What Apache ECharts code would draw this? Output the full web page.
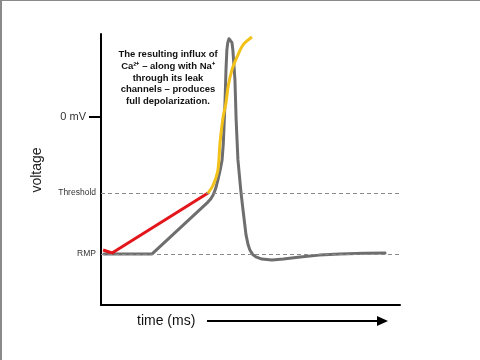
<!DOCTYPE html>
<html>
<head>
<meta charset="utf-8">
<script src="https://cdn.jsdelivr.net/npm/echarts@6/dist/echarts.min.js"></script>
<style>
html,body{margin:0;padding:0;background:#fff;}
#chart{width:480px;height:360px;}
</style>
</head>
<body>
<div id="chart"></div>
<script>
// time (arbitrary ms units), voltage (mV-like units)
var grayTrace = [
  [1.0,-70.0],[17.1,-70.0],[35.5,-44.0],[36.6,-42.2],[37.5,-40.0],[38.4,-36.5],[39.1,-32.3],
  [39.9,-27.0],[40.5,-22.1],[40.9,-14.0],[41.1,-6.9],[41.5,8.4],[41.8,23.7],[42.1,33.9],
  [42.4,37.6],[42.8,39.6],[43.1,40.0],[43.4,39.6],[43.8,37.6],[44.1,33.9],[44.8,18.6],
  [45.2,-1.8],[45.8,-22.1],[46.8,-38.4],[47.5,-47.6],[48.5,-60.3],[49.2,-65.3],[49.8,-68.0],
  [50.7,-70.2],[51.8,-71.5],[53.8,-72.6],[57.2,-73.1],[61.0,-72.6],[66.6,-71.5],
  [73.0,-70.6],[79.9,-70.0],[88.0,-69.6],[95.0,-69.5]
];
var redTrace = [[0.7,-68.0],[3.7,-69.5],[35.8,-39.0]];
var yellowTrace = [
  [35.8,-39.0],[37.5,-34.9],[39.1,-27.2],[39.8,-13.5],[40.8,-0.7],[41.8,6.9],
  [42.5,15.1],[43.8,23.7],[45.5,30.3],[47.5,36.5],[50.5,40.5]
];
var levelValues = [0, -39, -70];
var levelLabels = ['0 mV', 'Threshold', 'RMP'];
var dashedLevels = [-39, -70];
var annotationLines = [
  'The resulting influx of',
  'Ca\u00B2\u207A \u2013 along with Na\u207A',
  'through its leak',
  'channels \u2013 produces',
  'full depolarization.'
];
var xTitle = 'time (ms)';
var yTitle = 'voltage';

var chart = echarts.init(document.getElementById('chart'));
chart.setOption({
  animation: false,
  backgroundColor: '#ffffff',
  grid: {left: 101, right: 80, top: 34, bottom: 55},
  xAxis: {
    type: 'value', min: 0, max: 100,
    axisLine: {show: true, onZero: false, lineStyle: {color: '#000', width: 2}},
    axisTick: {show: false}, axisLabel: {show: false}, splitLine: {show: false}
  },
  yAxis: {
    type: 'value', min: -96, max: 42,
    axisLine: {show: true, onZero: false, lineStyle: {color: '#000', width: 2}},
    axisTick: {show: true, customValues: [0], length: 12, lineStyle: {color: '#000', width: 2}},
    axisLabel: {
      show: true, customValues: levelValues, margin: 5,
      fontFamily: 'Liberation Sans, Arial, sans-serif',
      formatter: function (v) {
        var i = levelValues.indexOf(v);
        if (i === 0) return '{big|' + levelLabels[0] + '}';
        return i > 0 ? '{small|' + levelLabels[i] + '}' : '';
      },
      rich: {
        big: {fontSize: 11, color: '#333', padding: [0, 10, 0, 0], fontFamily: 'Liberation Sans, Arial, sans-serif'},
        small: {fontSize: 8.5, color: '#333', fontFamily: 'Liberation Sans, Arial, sans-serif'}
      }
    },
    splitLine: {show: false}
  },
  series: [
    {
      type: 'line', data: grayTrace, symbol: 'none', smooth: false, z: 3,
      lineStyle: {color: '#6e6e6e', width: 3, join: 'round', cap: 'round'},
      markLine: {
        silent: true, symbol: 'none', label: {show: false},
        lineStyle: {color: '#8a8a8a', width: 1, type: [4, 3]},
        data: dashedLevels.map(function (v) { return {yAxis: v}; })
      }
    },
    {type: 'line', data: redTrace, symbol: 'none', z: 4, lineStyle: {color: '#e3161b', width: 3, join: 'round'}},
    {type: 'line', data: yellowTrace, symbol: 'none', smooth: 0.3, z: 5, lineStyle: {color: '#f2c21b', width: 3}}
  ],
  graphic: [
    {type: 'line', shape: {x1: 0, y1: 0.5, x2: 480, y2: 0.5}, style: {stroke: '#8a8a8a', lineWidth: 1}},
    {type: 'line', shape: {x1: 1, y1: 0, x2: 1, y2: 360}, style: {stroke: '#8a8a8a', lineWidth: 2}},
    {type: 'text', x: 37, y: 170, rotation: Math.PI / 2,
      style: {text: yTitle, fontSize: 14, fill: '#222', align: 'center', verticalAlign: 'middle',
        fontFamily: 'Liberation Sans, Arial, sans-serif'}},
    {type: 'text', x: 137, y: 321,
      style: {text: xTitle, fontSize: 14, fill: '#111', align: 'left', verticalAlign: 'middle',
        fontFamily: 'Liberation Sans, Arial, sans-serif'}},
    {type: 'line', shape: {x1: 207, y1: 321, x2: 380, y2: 321}, style: {stroke: '#000', lineWidth: 2}},
    {type: 'polygon', shape: {points: [[377, 316], [388, 321], [377, 326]]}, style: {fill: '#000'}},
    {type: 'text', x: 168, y: 78,
      style: {text: annotationLines.join('\n'), fontSize: 9.5, fontWeight: 'bold', fill: '#111',
        align: 'center', verticalAlign: 'middle', lineHeight: 11.6,
        fontFamily: 'Liberation Sans, Arial, sans-serif'}}
  ]
});
</script>
</body>
</html>
